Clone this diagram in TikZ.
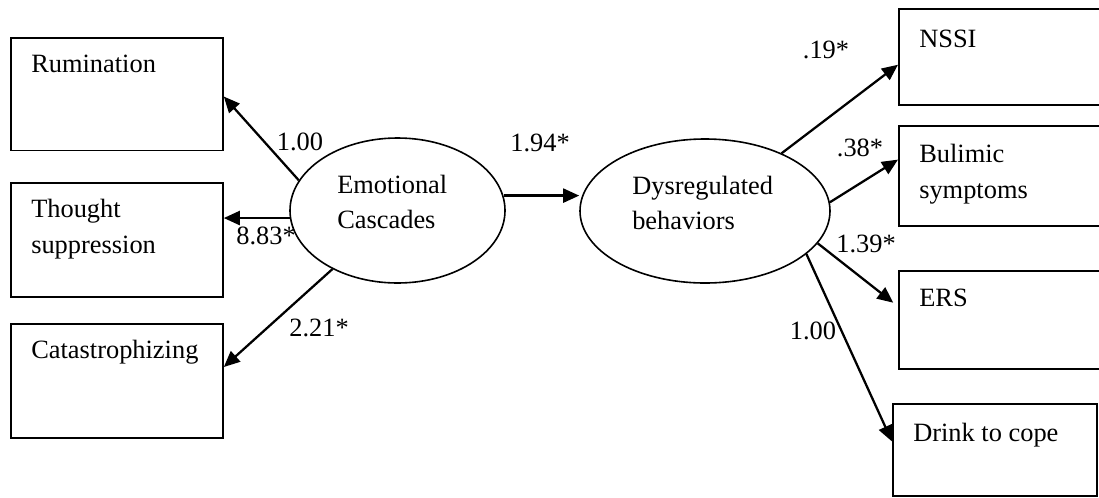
\documentclass[tikz,border=0pt]{standalone}
\usepackage{fontspec}
\setmainfont{Liberation Serif}
\usetikzlibrary{arrows.meta,shapes.geometric,calc}
\begin{document}
\begin{tikzpicture}[x=0.75pt,y=-0.75pt,
  box/.style={draw,line width=1.35pt,rectangle,inner sep=0pt,anchor=north west},
  latent/.style={draw,line width=1.2pt,ellipse,inner sep=0pt},
  txt/.style={anchor=base west,inner sep=0pt,font=\fontsize{19.8}{26.6}\selectfont},
  coef/.style={inner sep=0pt,font=\fontsize{19.8}{26.6}\selectfont},
  arr/.style={line width=1.7pt,-{Triangle[length=12pt,width=10.5pt]}}]
\clip (0,0) rectangle (1099,497);
\fill[white] (0,0) rectangle (1099,497);

% indicators of emotional cascades
\node[box,minimum width=159pt,minimum height=84.5pt] (rum) at (10,37) {};
\node[box,minimum width=159pt,minimum height=85.5pt] (tho) at (10,182) {};
\node[box,minimum width=159pt,minimum height=85.5pt] (cat) at (10,323) {};
\node[txt] (rumt) at (31,72) {Rumination};
\node[txt] (thot1) at (31,217) {Thought};
\node[txt] (thot2) at (31,253) {suppression};
\node[txt] (catt) at (31,358) {Catastrophizing};

% indicators of dysregulated behaviors
\node[box,minimum width=159pt,minimum height=72pt] (nssi) at (898,8) {};
\node[box,minimum width=159pt,minimum height=75pt] (bul) at (898,125) {};
\node[box,minimum width=159pt,minimum height=73.5pt] (ers) at (898,270) {};
\node[box,minimum width=153pt,minimum height=69pt] (drk) at (892,403) {};
\node[txt] (nssit) at (919,47) {NSSI};
\node[txt] (bult1) at (919,162) {Bulimic};
\node[txt] (bult2) at (919,198) {symptoms};
\node[txt] (erst) at (919,306) {ERS};
\node[txt] (drkt) at (913,441) {Drink to cope};

% latent factors
\node[latent,minimum width=161.25pt,minimum height=108.75pt] (emo) at (397.5,210.5) {};
\node[latent,minimum width=187.5pt,minimum height=108pt] (dys) at (705,211) {};
\node[txt] (emot1) at (337,193) {Emotional};
\node[txt] (emot2) at (337,228) {Cascades};
\node[txt] (dyst1) at (632,194) {Dysregulated};
\node[txt] (dyst2) at (632,229) {behaviors};

% loadings and structural path
\draw[arr] (emo.163.5) -- ($(rum.north east)!0.52!(rum.south east)$);
\draw[arr] (emo.184) -- (emo.184 -| tho.east);
\draw[arr] (emo.222) -- ($(cat.north east)!0.38!(cat.south east)$);
\draw[arr] (emo.8.4) -- (emo.8.4 -| dys.west);
\draw[arr] (dys.37) -- ($(nssi.north west)!0.58!(nssi.south west)$);
\draw[arr] (dys.4.6) -- ($(bul.north west)!0.34!(bul.south west)$);
\draw[arr,shorten >=4.5pt] (dys.-16.6) -- ($(ers.north west)!0.365!(ers.south west)$);
\draw[arr] (dys.-23) -- ($(drk.north west)!0.41!(drk.south west)$);

% coefficients
\node[coef] (l1) at (300,142) {1.00};
\node[coef] (l2) at (266,236) {8.83*};
\node[coef] (l3) at (319,328) {2.21*};
\node[coef] (l4) at (540,143) {1.94*};
\node[coef] (l5) at (826,50) {.19*};
\node[coef] (l6) at (860,148) {.38*};
\node[coef] (l7) at (866,244) {1.39*};
\node[coef] (l8) at (813,331) {1.00};
\end{tikzpicture}
\end{document}
